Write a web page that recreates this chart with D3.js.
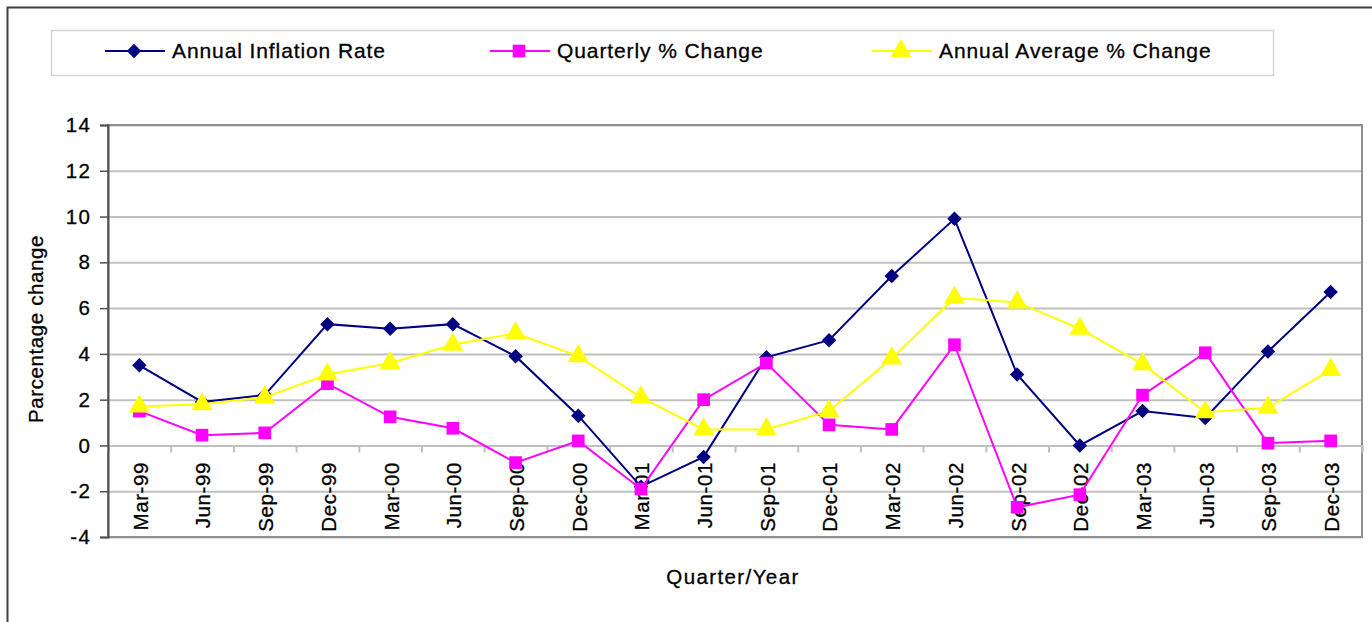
<!DOCTYPE html>
<html>
<head>
<meta charset="utf-8">
<script src="https://cdn.jsdelivr.net/npm/d3@7"></script>
<style>
  body { margin: 0; background: #fff; }
  svg { display: block; font-family: Arial, "Liberation Sans", sans-serif; }
  text { stroke: #000; stroke-width: 0.3px; }
</style>
</head>
<body>
<svg id="chart" width="1372" height="622"></svg>
<script>
const quarters = ['Mar-99', 'Jun-99', 'Sep-99', 'Dec-99', 'Mar-00', 'Jun-00', 'Sep-00', 'Dec-00',
  'Mar-01', 'Jun-01', 'Sep-01', 'Dec-01', 'Mar-02', 'Jun-02', 'Sep-02', 'Dec-02',
  'Mar-03', 'Jun-03', 'Sep-03', 'Dec-03'];
const annualInflation = [3.5, 1.9, 2.2, 5.3, 5.1, 5.3, 3.9, 1.3, -1.8, -0.5,
  3.85, 4.6, 7.4, 9.9, 3.1, 0.0, 1.5, 1.2, 4.1, 6.7];
const quarterlyChange = [1.5, 0.45, 0.55, 2.7, 1.25, 0.75, -0.75, 0.2, -1.9, 2.0,
  3.6, 0.9, 0.7, 4.4, -2.7, -2.15, 2.2, 4.05, 0.1, 0.2];
const annualAverage = [1.7, 1.8, 2.1, 3.1, 3.6, 4.4, 4.9, 3.9, 2.1, 0.7,
  0.7, 1.5, 3.8, 6.45, 6.25, 5.1, 3.55, 1.45, 1.65, 3.3];
const seriesNames = ['Annual Inflation Rate', 'Quarterly % Change', 'Annual Average % Change'];
const yTicks = [-4, -2, 0, 2, 4, 6, 8, 10, 12, 14];

const svg = d3.select('#chart');
const plotLeft = 108;
const plotRight = 1362;
const plotTop = 125;
const plotBottom = 537;

const colors = ['#000080', '#ff00ff', '#ffff00'];
const symbols = [d3.symbolSquare, d3.symbolSquare, d3.symbolTriangle];
const symbolSizes = [105, 160, 190];
const symbolRotate = [45, 0, 0];
const seriesData = [annualInflation, quarterlyChange, annualAverage];

const scaleX = d3.scaleBand()
  .domain(quarters)
  .range([plotLeft, plotRight]);
const scaleY = d3.scaleLinear()
  .domain([-4, 14])
  .range([plotBottom, plotTop]);
const cx = q => scaleX(q) + scaleX.bandwidth() / 2;

// outer frame (runs off the page on the right / bottom)
svg.append('rect')
  .attr('x', 7.5)
  .attr('y', 7.5)
  .attr('width', 1420)
  .attr('height', 700)
  .attr('fill', 'none')
  .attr('stroke', '#404040')
  .attr('stroke-width', 2);

// gridlines
svg.append('g')
  .attr('class', 'grid')
  .attr('transform', `translate(${plotLeft}, 0)`)
  .call(d3.axisLeft(scaleY).tickValues(yTicks).tickSize(-(plotRight - plotLeft)).tickFormat(''))
  .call(g => g.select('.domain').remove())
  .selectAll('line')
  .attr('stroke', '#c0c0c0')
  .attr('stroke-width', 2);

// plot border
svg.append('rect')
  .attr('x', plotLeft)
  .attr('y', plotTop)
  .attr('width', plotRight - plotLeft)
  .attr('height', plotBottom - plotTop)
  .attr('fill', 'none')
  .attr('stroke', '#909090')
  .attr('stroke-width', 2);

// zero axis with category boundary ticks
const boundaryScale = d3.scaleLinear()
  .domain([0, quarters.length])
  .range([plotLeft, plotRight]);
svg.append('g')
  .attr('transform', `translate(0, ${scaleY(0)})`)
  .call(d3.axisBottom(boundaryScale).ticks(quarters.length).tickSize(7).tickFormat(''))
  .call(g => g.select('.domain').attr('stroke', '#c0c0c0').attr('stroke-width', 2))
  .selectAll('line')
  .attr('stroke', '#c0c0c0')
  .attr('stroke-width', 2);

// category labels
svg.append('g')
  .selectAll('text')
  .data(quarters)
  .join('text')
  .attr('transform', d => `translate(${cx(d) + 1}, 462) rotate(-90)`)
  .attr('text-anchor', 'end')
  .attr('dy', '0.36em')
  .attr('font-size', 20.5)
  .attr('letter-spacing', 0.6)
  .attr('fill', '#000')
  .text(d => d);

// y axis
const yAxis = svg.append('g')
  .attr('transform', `translate(${plotLeft}, 0)`)
  .call(d3.axisLeft(scaleY).tickValues(yTicks).tickSize(8).tickPadding(9).tickFormat(d => String(d)));
yAxis.select('.domain').attr('stroke', '#505050').attr('stroke-width', 2);
yAxis.selectAll('line').attr('stroke', '#505050').attr('stroke-width', 1.5);
yAxis.selectAll('text')
  .attr('font-size', 20.5)
  .attr('letter-spacing', 1.2)
  .attr('font-family', 'Arial, "Liberation Sans", sans-serif')
  .attr('fill', '#000');

// axis titles
svg.append('text')
  .attr('transform', 'translate(43, 329) rotate(-90)')
  .attr('text-anchor', 'middle')
  .attr('font-size', 20.5)
  .attr('letter-spacing', 0.6)
  .text('Parcentage change');

svg.append('text')
  .attr('x', 733)
  .attr('y', 584)
  .attr('text-anchor', 'middle')
  .attr('font-size', 20.5)
  .attr('letter-spacing', 1.4)
  .text('Quarter/Year');

// series
seriesData.forEach((values, i) => {
  const g = svg.append('g').attr('class', `series-${i}`);
  const line = d3.line()
    .x((d, j) => cx(quarters[j]))
    .y(d => scaleY(d));
  g.append('path')
    .attr('d', line(values))
    .attr('fill', 'none')
    .attr('stroke', colors[i])
    .attr('stroke-width', 2);
  g.selectAll('path.marker')
    .data(values)
    .join('path')
    .attr('class', 'marker')
    .attr('d', d3.symbol().type(symbols[i]).size(symbolSizes[i]))
    .attr('transform', (d, j) => `translate(${cx(quarters[j])}, ${scaleY(d)}) rotate(${symbolRotate[i]})`)
    .attr('fill', colors[i]);
});

// legend
svg.append('rect')
  .attr('x', 51.5)
  .attr('y', 30.5)
  .attr('width', 1222)
  .attr('height', 45)
  .attr('fill', '#fff')
  .attr('stroke', '#d4d4d4')
  .attr('stroke-width', 1.5);

const legendX = [105, 490, 872];
const legend = svg.append('g')
  .selectAll('g')
  .data(seriesNames)
  .join('g')
  .attr('transform', (d, i) => `translate(${legendX[i]}, 51)`);
legend.append('line')
  .attr('x1', 0)
  .attr('x2', 60)
  .attr('stroke', (d, i) => colors[i])
  .attr('stroke-width', 2);
legend.append('path')
  .attr('d', (d, i) => d3.symbol().type(symbols[i]).size(symbolSizes[i])())
  .attr('transform', (d, i) => `translate(29, 0) rotate(${symbolRotate[i]})`)
  .attr('fill', (d, i) => colors[i]);
legend.append('text')
  .attr('x', 67)
  .attr('y', 7)
  .attr('font-size', 21)
  .attr('letter-spacing', 0.9)
  .text(d => d);
</script>
</body>
</html>
